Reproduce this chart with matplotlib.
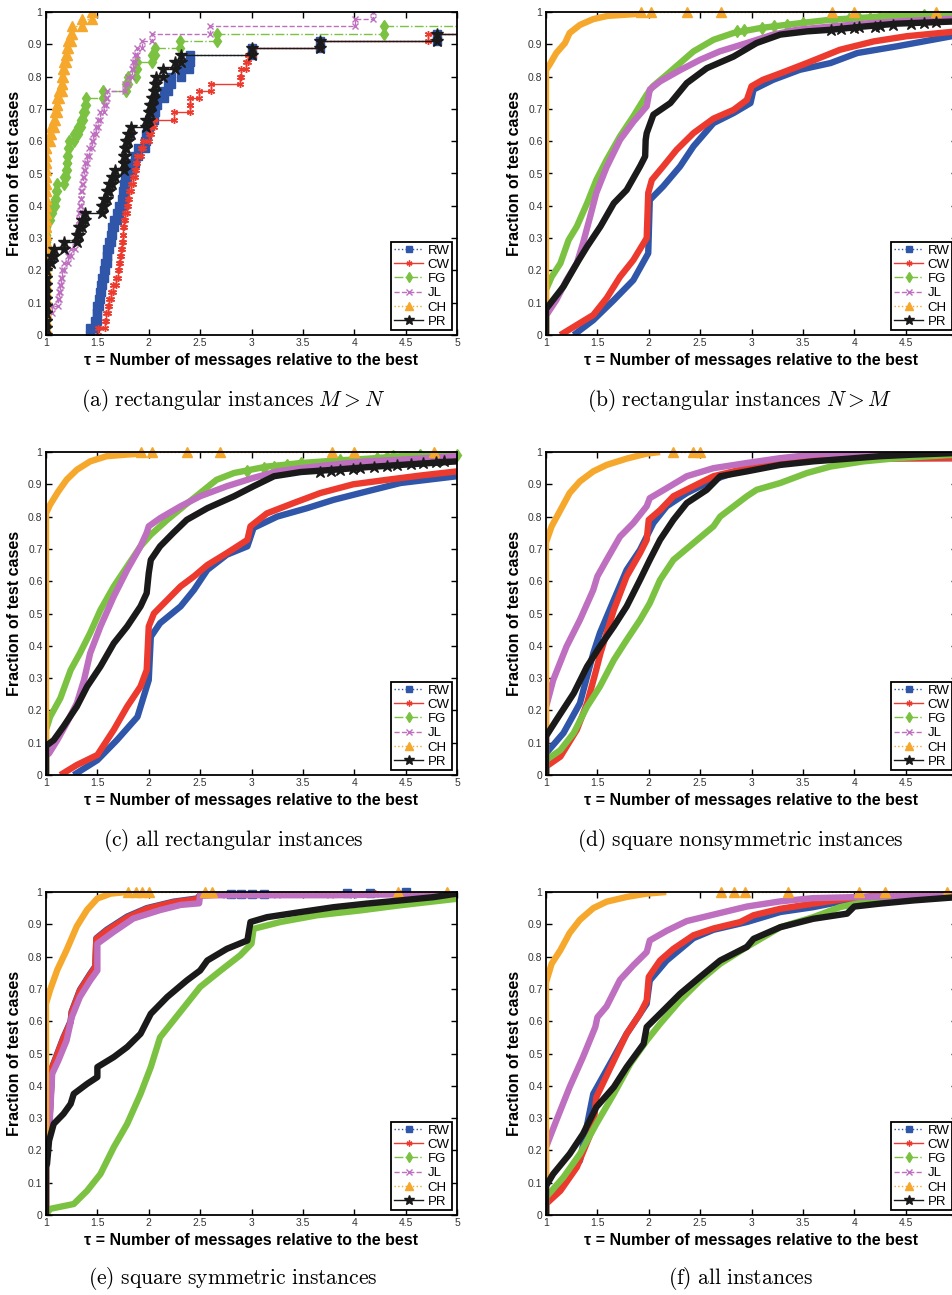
import numpy as np
import matplotlib
matplotlib.use('Agg')
import matplotlib.pyplot as plt
from matplotlib.lines import Line2D

plt.rcParams['font.family'] = ['Liberation Sans', 'DejaVu Sans']
plt.rcParams['mathtext.fontset'] = 'cm'

solvers = ['RW', 'CW', 'FG', 'JL', 'CH', 'PR']
colors = {'RW': '#2f56a8', 'CW': '#ec3a2e', 'FG': '#7cc242', 'JL': '#bf6fbf',
          'CH': '#f5a82c', 'PR': '#1a1a1a'}
lstyles = {'RW': ':', 'CW': '-', 'FG': '-.', 'JL': '--', 'CH': ':', 'PR': '-'}
markers = {'RW': 's', 'CW': (6, 2, 0), 'FG': 'd', 'JL': 'x', 'CH': '^', 'PR': '*'}
msizes = {'RW': 5.5, 'CW': 5, 'FG': 6, 'JL': 4.5, 'CH': 7.5, 'PR': 9}

# ---- (a) rectangular M > N : 45 test cases, sorted ratios (8 = beyond the plot)
n_a = 45
a_RW = [1.43, 1.48, 1.50, 1.50, 1.52, 1.53, 1.54, 1.545, 1.56, 1.57, 1.59, 1.595,
        1.61, 1.63, 1.64, 1.66, 1.69, 1.71, 1.74, 1.75, 1.76, 1.77, 1.79, 1.84,
        1.87, 1.90, 1.96, 1.97, 1.98, 2.00, 2.05, 2.06, 2.08, 2.15, 2.19, 2.22,
        2.31, 2.39, 2.40, 3.0, 3.67, 4.81, 8, 8, 8]
a_CW = [1.51, 1.57, 1.58, 1.60, 1.61, 1.63, 1.65, 1.68, 1.70, 1.71, 1.72, 1.73,
        1.74, 1.745, 1.75, 1.76, 1.77, 1.79, 1.80, 1.81, 1.83, 1.85, 1.87, 1.88,
        1.89, 1.92, 1.94, 2.00, 2.02, 2.05, 2.25, 2.40, 2.40, 2.49, 2.61, 2.89,
        2.90, 2.95, 2.97, 3.01, 3.67, 4.72, 8, 8, 8]
a_FG = [1.0] * 16 + [1.04, 1.06, 1.09, 1.10, 1.11, 1.18, 1.19, 1.20, 1.20, 1.21,
                     1.22, 1.27, 1.31, 1.34, 1.36, 1.38, 1.39, 1.55, 1.78, 1.80,
                     1.88, 1.89, 2.03, 2.06, 2.30, 2.66, 4.29, 8, 8]
a_JL = [1.0, 1.0, 1.0, 1.06, 1.12, 1.13, 1.14, 1.15, 1.16, 1.18, 1.21, 1.24, 1.28,
        1.30, 1.31, 1.32, 1.325, 1.335, 1.34, 1.34, 1.35, 1.36, 1.37, 1.38, 1.40,
        1.42, 1.45, 1.46, 1.49, 1.51, 1.53, 1.56, 1.58, 1.59, 1.77, 1.80, 1.84,
        1.85, 1.87, 1.89, 1.93, 2.03, 2.60, 4.01, 4.18]
a_CH = [1.0] * 27 + [1.036, 1.05, 1.075, 1.09, 1.105, 1.11, 1.13, 1.155, 1.16,
                     1.17, 1.18, 1.19, 1.20, 1.21, 1.24, 1.25, 1.35, 1.45]
a_PR = [1.0] * 10 + [1.05, 1.08, 1.18, 1.30, 1.32, 1.35, 1.38, 1.545, 1.56, 1.59,
                     1.61, 1.64, 1.675, 1.755, 1.76, 1.77, 1.78, 1.80, 1.83, 1.97,
                     2.00, 2.01, 2.03, 2.05, 2.06, 2.07, 2.14, 2.26, 2.31, 3.0,
                     3.67, 4.81, 8, 8, 8]

# ---- dense profiles: (tau, fraction)
b_RW = [(1.27, 0), (1.46, .046), (1.66, .108), (1.85, .17), (1.995, .253), (2.01, .418),
        (2.14, .46), (2.305, .522), (2.435, .584), (2.63, .656), (2.825, .687), (2.99, .718),
        (3.02, .76), (3.21, .79), (3.47, .821), (3.77, .842), (4.03, .873), (4.42, .894), (5.0, .928)]
b_CW = [(1.14, 0), (1.30, .031), (1.46, .062), (1.59, .114), (1.72, .18), (1.85, .232),
        (1.98, .30), (1.995, .44), (2.03, .48), (2.14, .522), (2.27, .573), (2.435, .625),
        (2.63, .67), (2.825, .697), (2.955, .728), (3.0, .77), (3.11, .79), (3.28, .81),
        (3.54, .842), (3.86, .883), (4.19, .909), (4.51, .925), (5.0, .94)]
b_FG = [(1.0, 0), (1.0, .14), (1.055, .18), (1.14, .222), (1.22, .294), (1.30, .336),
        (1.40, .408), (1.49, .48), (1.59, .542), (1.72, .615), (1.85, .677), (1.98, .744),
        (2.04, .77), (2.175, .806), (2.305, .842), (2.435, .878), (2.63, .914), (2.825, .935),
        (3.08, .95), (3.28, .958), (3.54, .968), (3.77, .976), (4.03, .981), (4.38, .989), (5.0, .992)]
b_JL = [(1.0, 0), (1.0, .06), (1.1, .108), (1.2, .17), (1.3, .222), (1.36, .284),
        (1.43, .367), (1.49, .44), (1.59, .52), (1.72, .604), (1.85, .66), (1.98, .708),
        (2.01, .76), (2.11, .785), (2.305, .82), (2.5, .852), (2.69, .878), (2.955, .904),
        (3.21, .93), (3.44, .945), (3.77, .955), (4.1, .964), (4.42, .971), (5.0, .98)]
b_CH = [(1.0, 0), (1.0, .82), (1.04, .84), (1.10, .873), (1.185, .904), (1.23, .935),
        (1.33, .96), (1.46, .978), (1.6, .988), (1.8, .992), (1.92, .995)]
b_PR = [(1.0, 0), (1.0, .08), (1.055, .103), (1.17, .15), (1.3, .222), (1.40, .274),
        (1.53, .336), (1.66, .408), (1.785, .449), (1.915, .522), (1.965, .553), (1.97, .604),
        (1.98, .625), (2.045, .682), (2.21, .718), (2.37, .78), (2.565, .826), (2.825, .862),
        (3.05, .904), (3.28, .93), (3.54, .94), (3.77, .945), (4.09, .955), (4.42, .964), (5.0, .971)]

c_RW = [(1.27, 0), (1.5, .046), (1.69, .108), (1.89, .18), (2.0, .294), (2.02, .428),
        (2.11, .47), (2.31, .522), (2.44, .573), (2.57, .635), (2.76, .682), (2.96, .708),
        (3.02, .765), (3.25, .80), (3.54, .826), (3.8, .852), (4.06, .873), (4.45, .904), (5.0, .925)]
c_CW = [(1.14, 0), (1.30, .031), (1.5, .062), (1.66, .14), (1.79, .212), (1.92, .274),
        (1.98, .325), (2.0, .46), (2.05, .50), (2.18, .542), (2.31, .584), (2.44, .615),
        (2.57, .65), (2.76, .687), (2.96, .728), (2.99, .77), (3.15, .81), (3.41, .842),
        (3.67, .873), (3.99, .90), (4.32, .914), (4.64, .927), (5.0, .94)]
c_FG = [(1.0, 0), (1.0, .14), (1.04, .18), (1.14, .238), (1.24, .325), (1.33, .377),
        (1.43, .44), (1.53, .511), (1.66, .584), (1.79, .646), (1.92, .708), (2.02, .744),
        (2.18, .79), (2.34, .832), (2.50, .873), (2.66, .914), (2.83, .935), (2.99, .945),
        (3.15, .955), (3.31, .96), (3.48, .966), (3.8, .973), (4.12, .979), (4.45, .987), (5.0, .992)]
c_JL = [(1.0, 0), (1.0, .06), (1.03, .067), (1.11, .108), (1.2, .16), (1.30, .222),
        (1.37, .294), (1.43, .377), (1.53, .46), (1.66, .553), (1.79, .635), (1.92, .708),
        (1.98, .75), (2.0, .77), (2.11, .795), (2.31, .832), (2.50, .863), (2.76, .894),
        (3.02, .92), (3.25, .94), (3.48, .95), (3.8, .961), (4.12, .971), (4.45, .976), (5.0, .987)]
c_CH = [(1.0, 0), (1.0, .81), (1.04, .837), (1.12, .878), (1.2, .914), (1.30, .945),
        (1.43, .971), (1.59, .987), (1.79, .992), (1.92, .995)]
c_PR = [(1.0, 0), (1.0, .09), (1.075, .108), (1.17, .15), (1.30, .212), (1.40, .274),
        (1.53, .336), (1.66, .408), (1.79, .46), (1.92, .522), (1.98, .563), (2.0, .625),
        (2.02, .666), (2.11, .708), (2.24, .75), (2.37, .79), (2.57, .826), (2.83, .863),
        (3.02, .894), (3.22, .925), (3.48, .938), (3.8, .945), (4.12, .953), (4.45, .96), (5.0, .971)]

d_RW = [(1.0, 0), (1.0, .067), (1.17, .13), (1.33, .222), (1.46, .377), (1.525, .44),
        (1.66, .542), (1.785, .635), (1.915, .697), (2.045, .78), (2.175, .832), (2.37, .873),
        (2.63, .914), (2.955, .95), (3.28, .966), (3.6, .976), (4.25, .981), (5.0, .981)]
d_CW = [(1.0, 0), (1.0, .026), (1.14, .057), (1.30, .14), (1.40, .222), (1.48, .315),
        (1.53, .377), (1.66, .511), (1.785, .615), (1.915, .687), (1.98, .728), (2.0, .79),
        (2.11, .82), (2.24, .863), (2.435, .894), (2.63, .925), (2.955, .95), (3.28, .966),
        (3.6, .976), (3.93, .979), (5.0, .981)]
d_FG = [(1.0, 0), (1.0, .046), (1.14, .077), (1.27, .13), (1.40, .212), (1.525, .274),
        (1.66, .356), (1.785, .418), (1.915, .48), (2.01, .532), (2.11, .604), (2.24, .666),
        (2.435, .718), (2.63, .77), (2.695, .80), (2.955, .863), (3.05, .883), (3.28, .904),
        (3.54, .935), (3.77, .955), (4.09, .971), (4.42, .981), (5.0, .992)]
d_JL = [(1.0, 0), (1.0, .21), (1.07, .294), (1.2, .398), (1.33, .48), (1.46, .573),
        (1.5, .615), (1.59, .666), (1.72, .738), (1.85, .78), (1.98, .832), (2.01, .857),
        (2.175, .888), (2.37, .925), (2.63, .95), (2.955, .966), (3.28, .981), (3.6, .992),
        (3.93, .997), (5.0, .999)]
d_CH = [(1.0, 0), (1.0, .72), (1.055, .77), (1.14, .82), (1.23, .873), (1.33, .909),
        (1.46, .94), (1.59, .96), (1.79, .98), (1.98, .995), (2.11, 1.0)]
d_PR = [(1.0, 0), (1.0, .12), (1.1, .17), (1.27, .253), (1.40, .336), (1.525, .398),
        (1.66, .46), (1.785, .522), (1.915, .604), (2.01, .666), (2.11, .728), (2.24, .79),
        (2.37, .842), (2.565, .883), (2.695, .925), (2.955, .94), (3.28, .96), (3.6, .971),
        (3.93, .979), (4.25, .987), (4.58, .992), (5.0, .997)]

e_RW = [(1.0, 0), (1.0, .2), (1.03, .272), (1.06, .458), (1.11, .50), (1.17, .55),
        (1.24, .60), (1.25, .63), (1.33, .697), (1.43, .747), (1.48, .77), (1.49, .857),
        (1.59, .883), (1.79, .924), (1.98, .95), (2.24, .97), (2.47, .98), (2.5, .99),
        (2.83, .993), (3.8, .995), (5.0, 1.0)]
e_CW = [(1.0, 0), (1.0, .2), (1.03, .27), (1.06, .455), (1.11, .497), (1.17, .547),
        (1.24, .597), (1.25, .627), (1.33, .694), (1.43, .744), (1.48, .767), (1.49, .855),
        (1.59, .880), (1.79, .921), (1.98, .948), (2.24, .968), (2.47, .978), (2.5, .99),
        (2.83, .993), (3.8, .995), (5.0, 1.0)]
e_FG = [(1.0, 0), (1.04, .019), (1.27, .034), (1.40, .075), (1.53, .127), (1.66, .21),
        (1.79, .282), (1.92, .375), (2.02, .458), (2.11, .55), (2.24, .602), (2.37, .654),
        (2.5, .706), (2.70, .757), (2.89, .804), (3.0, .84), (3.02, .886), (3.28, .907),
        (3.64, .928), (4.06, .943), (4.45, .959), (5.0, .979)]
e_JL = [(1.0, 0), (1.0, .2), (1.03, .251), (1.06, .437), (1.12, .478), (1.2, .54),
        (1.25, .612), (1.33, .675), (1.43, .726), (1.50, .757), (1.5, .84), (1.66, .877),
        (1.85, .918), (2.11, .944), (2.31, .96), (2.49, .965), (2.5, .99), (3.8, .99),
        (4.45, .993), (5.0, .997)]
e_CH = [(1.0, 0), (1.0, .654), (1.04, .697), (1.11, .759), (1.2, .82), (1.30, .894),
        (1.40, .945), (1.50, .98), (1.63, .995), (1.79, 1.0)]
e_PR = [(1.0, 0), (1.0, .15), (1.01, .158), (1.03, .23), (1.075, .282), (1.17, .313),
        (1.24, .344), (1.27, .375), (1.40, .406), (1.5, .427), (1.5, .458), (1.66, .489),
        (1.79, .52), (1.92, .561), (2.02, .623), (2.18, .675), (2.37, .726), (2.5, .757),
        (2.57, .788), (2.76, .824), (2.96, .85), (2.99, .907), (3.15, .922), (3.48, .938),
        (3.8, .953), (4.12, .964), (4.45, .974), (4.77, .984), (5.0, .995)]

f_RW = [(1.0, 0), (1.0, .045), (1.33, .168), (1.46, .375), (1.66, .489), (1.785, .561),
        (1.98, .654), (2.01, .726), (2.175, .788), (2.435, .857), (2.63, .883), (2.955, .907),
        (3.28, .938), (3.6, .953), (3.93, .974), (4.42, .987), (5.0, .995)]
f_CW = [(1.0, 0), (1.0, .034), (1.14, .075), (1.30, .148), (1.46, .272), (1.49, .365),
        (1.66, .478), (1.785, .561), (1.915, .623), (1.98, .664), (2.0, .737), (2.11, .788),
        (2.24, .824), (2.435, .866), (2.63, .887), (2.89, .907), (3.02, .928), (3.28, .948),
        (3.6, .964), (3.93, .979), (4.25, .99), (5.0, .995)]
f_FG = [(1.0, 0), (1.0, .055), (1.17, .117), (1.33, .189), (1.49, .282), (1.66, .375),
        (1.82, .468), (1.98, .54), (2.11, .592), (2.305, .664), (2.5, .726), (2.695, .778),
        (2.955, .83), (3.28, .891), (3.6, .922), (3.86, .953), (4.09, .969), (4.42, .979), (5.0, .99)]
f_JL = [(1.0, 0), (1.0, .21), (1.1, .292), (1.23, .396), (1.36, .489), (1.48, .582),
        (1.5, .612), (1.59, .646), (1.72, .728), (1.85, .773), (1.98, .814), (2.01, .85),
        (2.175, .88), (2.37, .91), (2.63, .93), (2.955, .955), (3.28, .971), (3.6, .981),
        (4.25, .986), (5.0, .995)]
f_CH = [(1.0, 0), (1.0, .72), (1.055, .778), (1.14, .82), (1.23, .873), (1.33, .914),
        (1.46, .95), (1.59, .97), (1.79, .985), (1.98, .995), (2.17, 1.0)]
f_PR = [(1.0, 0), (1.0, .09), (1.07, .127), (1.23, .189), (1.36, .251), (1.49, .334),
        (1.66, .396), (1.785, .458), (1.95, .53), (1.98, .582), (2.11, .623), (2.305, .685),
        (2.5, .737), (2.695, .788), (2.955, .83), (3.02, .855), (3.28, .891), (3.6, .917),
        (3.93, .933), (4.0, .955), (4.25, .964), (4.58, .974), (5.0, .984)]

# ---- sparse markers where the profiles thin out: (tau, fraction)
b_marks = {
    'CH': [(1.92, 1.0), (2.02, 1.0), (2.37, 1.0), (2.70, 1.0), (3.78, 1.0), (4.0, 1.0), (4.8, 1.0)],
    'FG': [(2.86, .94), (2.93, .945), (3.1, .952), (3.22, .956), (3.35, .96), (3.5, .967), (3.8, .975),
           (3.95, .977), (4.05, .98), (4.15, .98), (4.25, .984), (4.35, .985), (4.68, .99), (4.8, .99)],
    'JL': [(4.2, .965), (4.4, .97)],
    'PR': [(3.77, .945), (3.87, .947), (4.0, .951), (4.05, .953), (4.2, .955), (4.25, .957),
           (4.38, .96), (4.55, .964), (4.68, .966), (4.8, .968)],
}
c_marks = {
    'CH': [(1.92, 1.0), (2.03, 1.0), (2.37, 1.0), (2.69, 1.0), (3.78, 1.0), (4.0, 1.0), (4.78, 1.0)],
    'FG': [(2.96, .94), (3.12, .95), (3.22, .955), (3.35, .96), (3.48, .966), (3.77, .971),
           (3.86, .974), (4.22, .98), (4.32, .985), (4.38, .987), (4.64, .99), (5.0, .99)],
    'PR': [(3.67, .938), (3.77, .94), (3.86, .943), (3.99, .947), (4.06, .95), (4.19, .953),
           (4.32, .958), (4.42, .96), (4.55, .964), (4.67, .966), (4.8, .968), (4.87, .971)],
}
d_marks = {'CH': [(2.24, 1.0), (2.43, 1.0), (2.5, 1.0)]}
e_marks = {
    'CH': [(1.80, 1.0), (1.88, 1.0), (1.93, 1.0), (2.0, 1.0), (2.55, 1.0), (2.62, 1.0), (4.43, 1.0), (4.9, 1.0)],
    'RW': [(2.8, .995), (2.9, .995), (3.0, .995), (3.12, .995), (3.93, .997), (4.15, .997), (4.5, 1.0)],
    'CW': [(2.9, .994), (3.15, .995), (3.63, .995), (4.2, .996), (4.45, .998)],
    'JL': [(2.75, .99), (3.25, .99), (3.76, .99), (3.99, .99), (4.2, .993), (4.43, .995)],
}
f_marks = {'CH': [(2.7, 1.0), (2.83, 1.0), (2.94, 1.0), (3.36, 1.0), (4.05, 1.0), (4.3, 1.0), (4.9, 1.0)]}

cap_words = ['(a) rectangular instances', '(b) rectangular instances',
             '(c) all rectangular instances', '(d) square nonsymmetric instances',
             '(e) square symmetric instances', '(f) all instances']
cap_math = ['M > N', 'N > M', '', '', '', '']

W, H = 952, 1295
fig = plt.figure(figsize=(W / 100, H / 100), dpi=100)

lefts = [46, 546]
tops = [12, 452, 892]
aw, ah = 411, 323


def make_axes(row, col):
    l = lefts[col] / W
    b = 1 - (tops[row] + ah) / H
    return fig.add_axes([l, b, aw / W, ah / H])


def style(ax, col):
    ax.set_xlim(1, 5)
    ax.set_ylim(0, 1)
    xt = [1, 1.5, 2, 2.5, 3, 3.5, 4, 4.5, 5]
    xl = ['1', '1.5', '2', '2.5', '3', '3.5', '4', '4.5', '5']
    if col == 1:
        xl[-1] = ''  # falls outside the page on the right
    ax.set_xticks(xt)
    ax.set_xticklabels(xl)
    yt = [i / 10 for i in range(11)]
    ax.set_yticks(yt)
    ax.set_yticklabels(['0'] + ['0.%d' % i for i in range(1, 10)] + ['1'])
    ax.tick_params(direction='in', top=True, right=True, length=4, width=1,
                   labelsize=7.5, labelcolor='#333333', pad=2.5)
    for s in ax.spines.values():
        s.set_linewidth(1.3)
    ax.set_xlabel('τ = Number of messages relative to the best', fontweight='bold',
                  fontsize=11.5, labelpad=3)
    ax.set_ylabel('Fraction of test cases', fontweight='bold', fontsize=11.5, labelpad=4)


def legend(ax):
    hs = [Line2D([], [], color=colors[s], ls=lstyles[s], lw=1, marker=markers[s],
                 ms=msizes[s] * 0.85, mfc=colors[s], mec=colors[s]) for s in solvers]
    leg = ax.legend(hs, solvers, loc='lower right', fontsize=9.5, frameon=True,
                    fancybox=False, edgecolor='black', framealpha=1, borderpad=0.2,
                    handlelength=2.2, handletextpad=0.35, labelspacing=0.15,
                    borderaxespad=0.35)
    leg.get_frame().set_linewidth(1.3)


# panel (a): step profiles with every vertex marked
ax = make_axes(0, 0)
a_sets = {'RW': a_RW, 'CW': a_CW, 'FG': a_FG, 'JL': a_JL, 'CH': a_CH, 'PR': a_PR}
for s in solvers:
    t = np.sort(a_sets[s])
    xs, ys = [], []
    prev = 0.0
    for i, ti in enumerate(t):
        yi = (i + 1) / n_a
        xs += [ti, ti]
        ys += [prev, yi]
        prev = yi
    ax.plot(xs, ys, color=colors[s], ls=lstyles[s], lw=1, marker=markers[s],
            ms=msizes[s], mfc=colors[s], mec=colors[s])
style(ax, 0)
legend(ax)

dense = [
    (0, 1, {'RW': b_RW, 'CW': b_CW, 'FG': b_FG, 'JL': b_JL, 'CH': b_CH, 'PR': b_PR}, b_marks),
    (1, 0, {'RW': c_RW, 'CW': c_CW, 'FG': c_FG, 'JL': c_JL, 'CH': c_CH, 'PR': c_PR}, c_marks),
    (1, 1, {'RW': d_RW, 'CW': d_CW, 'FG': d_FG, 'JL': d_JL, 'CH': d_CH, 'PR': d_PR}, d_marks),
    (2, 0, {'RW': e_RW, 'CW': e_CW, 'FG': e_FG, 'JL': e_JL, 'CH': e_CH, 'PR': e_PR}, e_marks),
    (2, 1, {'RW': f_RW, 'CW': f_CW, 'FG': f_FG, 'JL': f_JL, 'CH': f_CH, 'PR': f_PR}, f_marks),
]
for row, col, curves, marks in dense:
    ax = make_axes(row, col)
    for s in solvers:
        pts = np.array(curves[s])
        ax.plot(pts[:, 0], pts[:, 1], color=colors[s], lw=4.6, solid_joinstyle='round',
                solid_capstyle='butt')
        if s in marks:
            mp = np.array(marks[s])
            ax.plot(mp[:, 0], mp[:, 1], color=colors[s], ls=lstyles[s], lw=1,
                    marker=markers[s], ms=msizes[s], mfc=colors[s], mec=colors[s],
                    clip_on=False)
    style(ax, col)
    legend(ax)

cap_x = [233 / W, 740 / W]
cap_y = [1 - 400 / H, 1 - 840 / H, 1 - 1278 / H]
for k in range(6):
    txt = '$\\mathrm{' + cap_words[k].replace(' ', '\\ ') + '}'
    if cap_math[k]:
        txt += '\\ ' + cap_math[k]
    txt += '$'
    fig.text(cap_x[k % 2], cap_y[k // 2], txt, ha='center', va='center', fontsize=15.5)

fig.savefig('out.png', dpi=100)
